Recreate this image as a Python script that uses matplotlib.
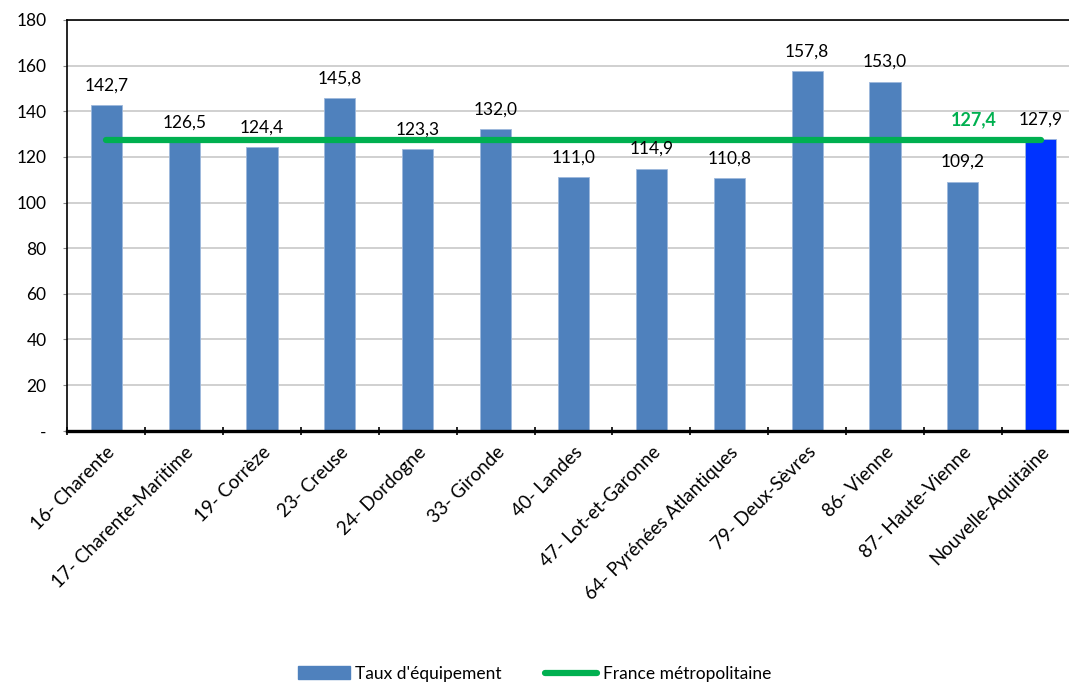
import numpy as np
import matplotlib.pyplot as plt
from matplotlib.lines import Line2D
from matplotlib.patches import Patch

plt.rcParams['font.family'] = ['Lato', 'DejaVu Sans']

departements = ['16- Charente', '17- Charente-Maritime', '19- Corrèze', '23- Creuse',
                '24- Dordogne', '33- Gironde', '40- Landes', '47- Lot-et-Garonne',
                '64- Pyrénées Atlantiques', '79- Deux-Sèvres', '86- Vienne',
                '87- Haute-Vienne', 'Nouvelle-Aquitaine']
taux = [142.7, 126.5, 124.4, 145.8, 123.3, 132.0, 111.0, 114.9, 110.8, 157.8, 153.0, 109.2, 127.9]
france = 127.4
yticks = [0, 20, 40, 60, 80, 100, 120, 140, 160, 180]
ytick_labels = ['-', '20', '40', '60', '80', '100', '120', '140', '160', '180']

fig = plt.figure(figsize=(10.69, 6.86), dpi=100)
ax = fig.add_axes([0.063, 0.372, 0.947, 0.599])

x = np.arange(len(departements))
colors = ['#4f81bd'] * (len(taux) - 1) + ['#0033ff']
ax.bar(x, taux, width=0.4, color=colors, edgecolor='#9db8dc', linewidth=0.6, zorder=2)
ax.plot([x[0], x[-1]], [france, france], color='#00b050', lw=4.5,
        solid_capstyle='round', zorder=3)

for xi, v in zip(x, taux):
    ax.text(xi, v + 5, f'{v:.1f}'.replace('.', ','), ha='center', va='bottom', fontsize=12.5)
ax.text(x[-1] - 0.86, france + 5, f'{france:.1f}'.replace('.', ','), ha='center',
        va='bottom', fontsize=13, fontweight='bold', color='#00b050')

ax.set_xlim(-0.5, len(x) - 0.5)
ax.set_ylim(0, 180)
ax.set_yticks(yticks)
ax.set_yticklabels(ytick_labels, fontsize=12.5)
ax.tick_params(axis='y', length=3, width=0.8, pad=12, color='#888888')
ax.yaxis.grid(True, color='#c8c8c8', lw=1.2, zorder=0)
ax.set_axisbelow(True)

ax.set_xticks(x)
ax.set_xticklabels(departements, rotation=45, ha='right', rotation_mode='anchor', fontsize=13.5)
ax.tick_params(axis='x', length=0, pad=9)
ax.set_xticks(np.arange(-0.5, len(x) - 0.4, 1), minor=True)
ax.tick_params(axis='x', which='minor', length=6, width=1.2, direction='inout')

for s in ['left', 'bottom', 'top', 'right']:
    ax.spines[s].set_linewidth(1.2)
ax.spines['bottom'].set_linewidth(2.4)
ax.spines['right'].set_visible(False)

handles = [Patch(facecolor='#4f81bd', edgecolor='#4f81bd'),
           Line2D([0], [0], color='#00b050', lw=4.5, solid_capstyle='round')]
fig.legend(handles, ["Taux d'équipement", 'France métropolitaine'], loc='center',
           bbox_to_anchor=(0.5, 0.018), ncol=2, frameon=False, fontsize=12.5,
           handlelength=3, columnspacing=2.5, handletextpad=0.3)

fig.savefig('out.png', dpi=100)
